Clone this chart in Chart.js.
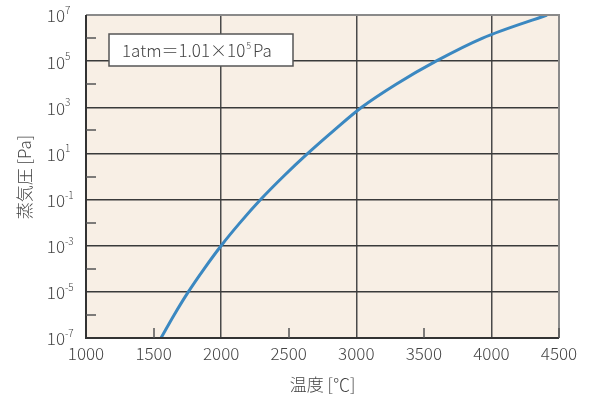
<!DOCTYPE html>
<html>
<head>
<meta charset="utf-8">
<script src="https://cdn.jsdelivr.net/npm/chart.js@4/dist/chart.umd.min.js"></script>
<style>
  html, body { margin: 0; padding: 0; background: #fff; }
  #wrap { width: 589px; height: 398px; }
</style>
</head>
<body>
<div id="wrap"><canvas id="chart"></canvas></div>
<script>
// temperature [°C] at each decade of vapour pressure [Pa]
const temps = [1555, 1652, 1757, 1874, 2000, 2140, 2292, 2460, 2641, 2835, 3040, 3295, 3590, 3935, 4411];
const logPressure = [-7, -6, -5, -4, -3, -2, -1, 0, 1, 2, 3, 4, 5, 6, 7];

const xTicks = [1000, 1500, 2000, 2500, 3000, 3500, 4000, 4500];
const yExponents = [-7, -6, -5, -4, -3, -2, -1, 0, 1, 2, 3, 4, 5, 6, 7];
const labelledExponents = [-7, -5, -3, -1, 1, 3, 5, 7];

const xTitle = '温度 [℃]';
const yTitle = '蒸気圧 [Pa]';
const noteMain = '1atm＝1.01×10';
const noteSup = '5';
const noteTail = 'Pa';

const FONT = "'Noto Sans CJK JP', 'Noto Sans', sans-serif";
const TEXT = '#444';
const GRID = '#3a3a3a';

const points = temps.map((t, i) => ({ x: t, y: Math.pow(10, logPressure[i]) }));

// plot area fill
const bgPlugin = {
  id: 'bg',
  beforeDraw(chart) {
    const { ctx, chartArea: a } = chart;
    ctx.save();
    ctx.fillStyle = '#f8efe5';
    ctx.fillRect(a.left, a.top, a.right - a.left, a.bottom - a.top);
    ctx.restore();
  }
};

// frame, short ticks, y labels, note box
const decoPlugin = {
  id: 'deco',
  afterDraw(chart) {
    const { ctx, chartArea: a } = chart;
    const xs = chart.scales.x, ys = chart.scales.y;
    ctx.save();

    // top / right frame
    ctx.strokeStyle = '#8a8a8a';
    ctx.lineWidth = 2;
    ctx.beginPath();
    ctx.moveTo(a.left, a.top);
    ctx.lineTo(a.right, a.top);
    ctx.lineTo(a.right, a.bottom);
    ctx.stroke();
    // left / bottom frame
    ctx.strokeStyle = '#333';
    ctx.beginPath();
    ctx.moveTo(a.left, a.top);
    ctx.lineTo(a.left, a.bottom);
    ctx.lineTo(a.right, a.bottom);
    ctx.stroke();

    // short inner ticks
    ctx.strokeStyle = '#555';
    ctx.lineWidth = 1.5;
    xTicks.filter(v => v % 1000 === 500).forEach(v => {
      const px = Math.round(xs.getPixelForValue(v));
      ctx.beginPath();
      ctx.moveTo(px, a.bottom);
      ctx.lineTo(px, a.bottom - 10);
      ctx.stroke();
    });
    yExponents.filter(e => e % 2 === 0).forEach(e => {
      const py = Math.round(ys.getPixelForValue(Math.pow(10, e)));
      ctx.beginPath();
      ctx.moveTo(a.left, py);
      ctx.lineTo(a.left + 10, py);
      ctx.stroke();
    });

    // y tick labels 10^n
    ctx.fillStyle = TEXT;
    labelledExponents.forEach(e => {
      const py = ys.getPixelForValue(Math.pow(10, e));
      ctx.font = '300 17px ' + FONT;
      ctx.textAlign = 'right';
      ctx.textBaseline = 'middle';
      ctx.fillText('10', 65, py + 1);
      ctx.font = '300 10px ' + FONT;
      ctx.textAlign = 'left';
      ctx.textBaseline = 'alphabetic';
      ctx.fillText(e < 0 ? '-' + (-e) : String(e), 65, py - 1);
    });

    // y title
    ctx.save();
    ctx.translate(25, 177);
    ctx.rotate(-Math.PI / 2);
    ctx.font = '300 17px ' + FONT;
    ctx.textAlign = 'center';
    ctx.textBaseline = 'middle';
    ctx.fillText(yTitle, 0, 0);
    ctx.restore();

    // note box
    const bx = a.left + 23, by = a.top + 19, bw = 184, bh = 32;
    ctx.fillStyle = '#fff';
    ctx.fillRect(bx, by, bw, bh);
    ctx.strokeStyle = '#555';
    ctx.lineWidth = 1.5;
    ctx.strokeRect(bx, by, bw, bh);
    ctx.fillStyle = TEXT;
    ctx.font = '300 17px ' + FONT;
    ctx.textAlign = 'left';
    ctx.textBaseline = 'alphabetic';
    const base = by + 23;
    let tx = bx + 13;
    ctx.fillText(noteMain, tx, base);
    tx += ctx.measureText(noteMain).width;
    ctx.font = '300 9px ' + FONT;
    ctx.fillText(noteSup, tx + 1, base - 8);
    tx += ctx.measureText(noteSup).width + 3;
    ctx.font = '300 17px ' + FONT;
    ctx.fillText(noteTail, tx, base);

    ctx.restore();
  }
};

new Chart(document.getElementById('chart'), {
  type: 'line',
  data: {
    datasets: [{
      data: points,
      borderColor: '#3b88c1',
      borderWidth: 3,
      pointRadius: 0,
      cubicInterpolationMode: 'monotone',
      fill: false
    }]
  },
  options: {
    responsive: true,
    maintainAspectRatio: false,
    animation: false,
    layout: { padding: { top: 15, right: 30, left: 0, bottom: 0 } },
    plugins: { legend: { display: false }, tooltip: { enabled: false } },
    scales: {
      x: {
        type: 'linear',
        min: 1000,
        max: 4500,
        afterBuildTicks(scale) { scale.ticks = xTicks.map(v => ({ value: v })); },
        afterFit(scale) { scale.height = 60; },
        ticks: {
          color: TEXT,
          font: { family: FONT, size: 17, weight: '300' },
          padding: 5,
          maxRotation: 0,
          callback: v => String(v)
        },
        grid: {
          drawTicks: false,
          lineWidth: 1.5,
          color: ctx => (ctx.tick && ctx.tick.value % 1000 === 0 && ctx.tick.value > 1000) ? '#4a4a4a' : 'rgba(0,0,0,0)'
        },
        border: { display: false },
        title: {
          display: true,
          text: xTitle,
          color: TEXT,
          font: { family: FONT, size: 17, weight: '300' },
          padding: { top: 0, bottom: 3 }
        }
      },
      y: {
        type: 'logarithmic',
        min: 1e-7,
        max: 1e7,
        afterBuildTicks(scale) { scale.ticks = yExponents.map(e => ({ value: Math.pow(10, e) })); },
        afterFit(scale) { scale.width = 86; },
        ticks: { display: false },
        grid: {
          drawTicks: false,
          lineWidth: 1.5,
          color: ctx => {
            if (!ctx.tick) return 'rgba(0,0,0,0)';
            const e = Math.round(Math.log10(ctx.tick.value));
            return (Math.abs(e) % 2 === 1 && Math.abs(e) !== 7) ? GRID : 'rgba(0,0,0,0)';
          }
        },
        border: { display: false }
      }
    }
  },
  plugins: [bgPlugin, decoPlugin]
});
</script>
</body>
</html>
